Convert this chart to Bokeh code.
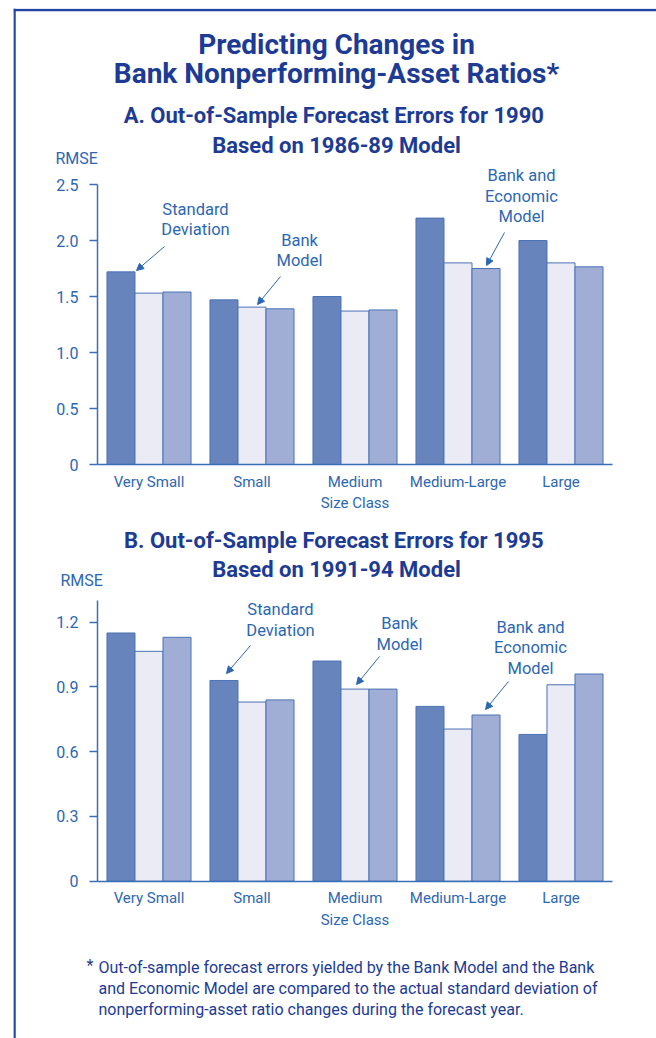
from bokeh.plotting import figure
from bokeh.models import Range1d, LinearAxis, FixedTicker, Label, Arrow, NormalHead, Span, ColumnDataSource
from bokeh.embed import file_html
from bokeh.resources import INLINE

# ---------------- data ----------------
categories = ["Very Small", "Small", "Medium", "Medium-Large", "Large"]
series = ["Standard Deviation", "Bank Model", "Bank and Economic Model"]

a_std = [1.72, 1.47, 1.50, 2.20, 2.00]
a_bank = [1.53, 1.405, 1.37, 1.80, 1.80]
a_econ = [1.54, 1.39, 1.38, 1.75, 1.765]

b_std = [1.15, 0.93, 1.02, 0.81, 0.68]
b_bank = [1.065, 0.83, 0.89, 0.705, 0.91]
b_econ = [1.13, 0.84, 0.89, 0.77, 0.96]

a_ticks = [0, 0.5, 1.0, 1.5, 2.0, 2.5]
a_tick_labels = ["0", "0.5", "1.0", "1.5", "2.0", "2.5"]
b_ticks = [0, 0.3, 0.6, 0.9, 1.2]
b_tick_labels = ["0", "0.3", "0.6", "0.9", "1.2"]

# ---------------- styles ----------------
FONT = "Roboto"
NAVY = "#1d3b94"
BLUE = "#2d67b2"
AXIS = "#3a6fb8"
FRAME = "#2446a3"
fills = ["#6884bd", "#ebebf5", "#a0aed6"]
edge = "#4a72b6"

W, H = 656, 1038
X_LO, X_HI, Y_TOP, Y_BOT = 13, W, 8, H
p = figure(width=W, height=H, output_backend="svg", toolbar_location=None,
           x_axis_location=None, y_axis_location=None,
           min_border_left=X_LO, min_border_right=0, min_border_top=Y_TOP, min_border_bottom=0,
           x_range=Range1d(X_LO, X_HI), y_range=Range1d(Y_BOT, Y_TOP))
p.xgrid.visible = False
p.ygrid.visible = False
p.outline_line_color = None
p.background_fill_color = "white"

# layout anchors (pixels)
AX_X0, AX_X1 = 97.0, 612.0
A_ZERO, A_TOP, A_TOPV = 464.0, 184.0, 2.5
B_ZERO, B_REF, B_REFV = 880.7, 621.7, 1.2

cx_per = (AX_X1 - AX_X0) / len(categories)
p.extra_x_ranges = {"cx": Range1d((X_LO - AX_X0) / cx_per, (X_HI - AX_X0) / cx_per)}
a_per = (A_ZERO - A_TOP) / A_TOPV
b_per = (B_ZERO - B_REF) / B_REFV
p.extra_y_ranges = {
    "ya": Range1d((A_ZERO - Y_BOT) / a_per, (A_ZERO - Y_TOP) / a_per),
    "yb": Range1d((B_ZERO - Y_BOT) / b_per, (B_ZERO - Y_TOP) / b_per),
}

bar_w = 0.272
centers = [i + 0.5 for i in range(len(categories))]
AX_FS = "15px"
TICK_FS = "16px"


def draw_panel(vals, yname, ticks, tick_labels, top_val):
    for j, v in enumerate(vals):
        xs = [c + (j - 1) * bar_w for c in centers]
        src = ColumnDataSource(dict(x=xs, top=v, cat=categories))
        p.vbar(x="x", top="top", bottom=0, width=bar_w, source=src,
               x_range_name="cx", y_range_name=yname,
               fill_color=fills[j], line_color=edge, line_width=1)
    yax = LinearAxis(y_range_name=yname, fixed_location=AX_X0, bounds=(0, top_val),
                     ticker=FixedTicker(ticks=ticks),
                     major_label_overrides=dict(zip(ticks, tick_labels)))
    yax.axis_line_color = AXIS
    yax.axis_line_width = 1.5
    yax.major_tick_line_color = AXIS
    yax.major_tick_line_width = 1.5
    yax.major_tick_out = 8
    yax.major_tick_in = 0
    yax.minor_tick_out = 0
    yax.minor_tick_in = 0
    yax.major_label_text_font = FONT
    yax.major_label_text_font_size = TICK_FS
    yax.major_label_text_color = BLUE
    yax.major_label_standoff = 11
    p.add_layout(yax, "left")

    xax = LinearAxis(x_range_name="cx", y_range_name=yname, fixed_location=0,
                     bounds=(0, len(categories)),
                     ticker=FixedTicker(ticks=centers),
                     major_label_overrides=dict(zip(centers, categories)),
                     axis_label="Size Class")
    xax.axis_line_color = AXIS
    xax.axis_line_width = 1.5
    xax.major_tick_out = 0
    xax.major_tick_in = 0
    xax.minor_tick_out = 0
    xax.minor_tick_in = 0
    xax.major_label_text_font = FONT
    xax.major_label_text_font_size = AX_FS
    xax.major_label_text_color = BLUE
    xax.major_label_standoff = 8
    xax.axis_label_text_font = FONT
    xax.axis_label_text_font_size = AX_FS
    xax.axis_label_text_font_style = "normal"
    xax.axis_label_text_color = BLUE
    xax.axis_label_standoff = 0
    p.add_layout(xax, "below")


draw_panel([a_std, a_bank, a_econ], "ya", a_ticks, a_tick_labels, 2.5)
draw_panel([b_std, b_bank, b_econ], "yb", b_ticks, b_tick_labels, 1.3)


def label(x, y, text, size, color, align="center", style="normal"):
    p.add_layout(Label(x=x, y=y, text=text, text_font=FONT, text_font_size=size,
                       text_color=color, text_align=align, text_baseline="alphabetic",
                       text_font_style=style))


def arrow(x0, y0, x1, y1):
    p.add_layout(Arrow(x_start=x0, y_start=y0, x_end=x1, y_end=y1,
                       line_color=BLUE, line_width=1,
                       end=NormalHead(size=7, fill_color=BLUE, line_color=BLUE)))


ANN = "16.5px"
# titles
label(336, 44, "Predicting Changes in", "28px", NAVY, style="bold")
label(336, 72.5, "Bank Nonperforming-Asset Ratios*", "28px", NAVY, style="bold")
label(336, 115, "A.  Out-of-Sample Forecast Errors for 1990", "22px", NAVY, style="bold")
label(336, 144.5, "Based on 1986-89 Model", "22px", NAVY, style="bold")
label(336, 539.5, "B.  Out-of-Sample Forecast Errors for 1995", "22px", NAVY, style="bold")
label(336, 568.5, "Based on 1991-94 Model", "22px", NAVY, style="bold")

# RMSE axis titles
label(55, 158, "RMSE", TICK_FS, BLUE, align="left")
label(60, 580, "RMSE", TICK_FS, BLUE, align="left")

# panel A annotations
label(195, 208.5, "Standard", ANN, BLUE)
label(195, 229, "Deviation", ANN, BLUE)
arrow(164, 246, 136, 270)
label(299, 239.5, "Bank", ANN, BLUE)
label(299, 260, "Model", ANN, BLUE)
arrow(280, 276, 257, 304)
label(521, 175, "Bank and", ANN, BLUE)
label(521, 195.5, "Economic", ANN, BLUE)
label(521, 216, "Model", ANN, BLUE)
arrow(504, 232, 486, 265)

# panel B annotations
label(280, 609, "Standard", ANN, BLUE)
label(280, 629.5, "Deviation", ANN, BLUE)
arrow(250, 645, 226, 673)
label(399, 623, "Bank", ANN, BLUE)
label(399, 643.5, "Model", ANN, BLUE)
arrow(379, 656, 356, 684)
label(530, 626.5, "Bank and", ANN, BLUE)
label(530, 647, "Economic", ANN, BLUE)
label(530, 667.5, "Model", ANN, BLUE)
arrow(508, 681, 485, 709)

# footnote
FN = "16px"
label(86, 965, "*", FN, NAVY, align="left")
label(98, 966.5, "Out-of-sample forecast errors yielded by the Bank Model and the Bank", FN, NAVY, align="left")
label(98, 988, "and Economic Model are compared to the actual standard deviation of", FN, NAVY, align="left")
label(98, 1009, "nonperforming-asset ratio changes during the forecast year.", FN, NAVY, align="left")

# frame lines
p.add_layout(Span(location=14, dimension="height", line_color=FRAME, line_width=2.5))
p.add_layout(Span(location=9.5, dimension="width", line_color=FRAME, line_width=2.5))

open("out.html", "w").write(file_html(p, INLINE))
